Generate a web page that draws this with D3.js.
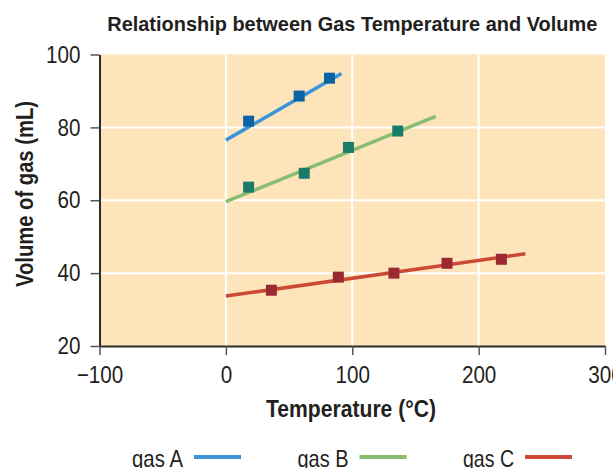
<!DOCTYPE html>
<html>
<head>
<meta charset="utf-8">
<script src="https://cdn.jsdelivr.net/npm/d3@7"></script>
<style>
  html, body { margin: 0; padding: 0; background: #ffffff; }
  svg { display: block; }
  text { font-family: "Liberation Sans", Arial, sans-serif; fill: #231f20; }
</style>
</head>
<body>
<svg id="chart" width="613" height="468"></svg>
<script>
// ---- data ----
const titleText = "Relationship between Gas Temperature and Volume";
const xLabel = "Temperature (°C)";
const yLabel = "Volume of gas (mL)";
const xTicks = [-100, 0, 100, 200, 300];
const yTicks = [20, 40, 60, 80, 100];
const xGrid = [0, 100, 200];
const yGrid = [40, 60, 80];
const seriesNames = ["gas A", "gas B", "gas C"];

const gasA_T = [18, 58, 82];
const gasA_V = [81.7, 88.6, 93.5];
const gasB_T = [18, 62, 97, 136];
const gasB_V = [63.6, 67.4, 74.5, 79.0];
const gasC_T = [36, 89, 133, 175, 218];
const gasC_V = [35.3, 38.9, 40.0, 42.7, 43.8];

// trend lines (start / end)
const gasA_fitT = [0, 91.5];
const gasA_fitV = [76.5, 94.8];
const gasB_fitT = [0, 166];
const gasB_fitV = [59.6, 83.0];
const gasC_fitT = [0, 237];
const gasC_fitV = [33.7, 45.3];

const lineColors = ["#3b94d9", "#88bd71", "#cc4a35"];
const markerColors = ["#0a64a4", "#1b7b69", "#9a2a30"];

const series = [
  { name: seriesNames[0], T: gasA_T, V: gasA_V, fitT: gasA_fitT, fitV: gasA_fitV },
  { name: seriesNames[1], T: gasB_T, V: gasB_V, fitT: gasB_fitT, fitV: gasB_fitV },
  { name: seriesNames[2], T: gasC_T, V: gasC_V, fitT: gasC_fitT, fitV: gasC_fitV }
];

// ---- layout ----
const svg = d3.select("#chart");
const pL = 99.5, pR = 605, pT = 54.5, pB = 346;
const x = d3.scaleLinear().domain([-100, 300]).range([pL, pR]);
const y = d3.scaleLinear().domain([20, 100]).range([pB, pT]);

// condense text horizontally (the original uses a condensed face)
function condense(sel, f) {
  sel.each(function () {
    const w = this.getComputedTextLength();
    d3.select(this).attr("textLength", w * f).attr("lengthAdjust", "spacingAndGlyphs");
  });
}

// background
svg.append("rect")
  .attr("x", pL).attr("y", pT)
  .attr("width", pR - pL).attr("height", pB - pT)
  .attr("fill", "#fde4ba");

// grid
svg.append("g").selectAll("line").data(xGrid).join("line")
  .attr("x1", d => x(d)).attr("x2", d => x(d))
  .attr("y1", pT).attr("y2", pB)
  .attr("stroke", "#ffffff").attr("stroke-width", 2);
svg.append("g").selectAll("line").data(yGrid).join("line")
  .attr("x1", pL).attr("x2", pR)
  .attr("y1", d => y(d)).attr("y2", d => y(d))
  .attr("stroke", "#ffffff").attr("stroke-width", 2);

// axes
const xAxis = d3.axisBottom(x).tickValues(xTicks).tickSize(9).tickPadding(11).tickSizeOuter(0)
  .tickFormat(d => d < 0 ? "\u2212" + Math.abs(d) : String(d));
const yAxis = d3.axisLeft(y).tickValues(yTicks).tickSize(9).tickPadding(10).tickSizeOuter(0);

const gx = svg.append("g").attr("transform", `translate(0,${pB})`).call(xAxis);
const gy = svg.append("g").attr("transform", `translate(${pL},0)`).call(yAxis);
[gx, gy].forEach(g => {
  g.select(".domain").attr("stroke", "#2b2b2b").attr("stroke-width", 2);
  g.selectAll(".tick line").attr("stroke", "#555555").attr("stroke-width", 1.5);
  const t = g.selectAll(".tick text")
    .attr("fill", "#231f20")
    .style("font-family", '"Liberation Sans", Arial, sans-serif')
    .style("font-size", "24px");
  condense(t, 0.86);
});

// trend lines
const line = d3.line().x(d => x(d[0])).y(d => y(d[1]));
svg.append("g").selectAll("path").data(series).join("path")
  .attr("d", s => line(s.fitT.map((t, i) => [t, s.fitV[i]])))
  .attr("fill", "none")
  .attr("stroke", (s, i) => lineColors[i])
  .attr("stroke-width", 3.5);

// markers
const ms = 11;
series.forEach((s, i) => {
  svg.append("g").selectAll("rect").data(s.T.map((t, j) => [t, s.V[j]])).join("rect")
    .attr("x", d => x(d[0]) - ms / 2)
    .attr("y", d => y(d[1]) - ms / 2)
    .attr("width", ms).attr("height", ms)
    .attr("fill", markerColors[i]);
});

// title
svg.append("text")
  .attr("x", (pL + pR) / 2).attr("y", 31)
  .attr("text-anchor", "middle")
  .attr("textLength", 490).attr("lengthAdjust", "spacingAndGlyphs")
  .style("font-size", "21px").style("font-weight", "bold")
  .text(titleText);

// x label
svg.append("text")
  .attr("x", 351).attr("y", 416.5)
  .attr("text-anchor", "middle")
  .attr("textLength", 170).attr("lengthAdjust", "spacingAndGlyphs")
  .style("font-size", "23px").style("font-weight", "bold")
  .text(xLabel);

// y label
svg.append("text")
  .attr("transform", "translate(33,194) rotate(-90)")
  .attr("text-anchor", "middle")
  .attr("textLength", 186).attr("lengthAdjust", "spacingAndGlyphs")
  .style("font-size", "23px").style("font-weight", "bold")
  .text(yLabel);

// legend
const legendX = d3.scaleLinear().domain([0, 2]).range([132, 463]);
const lg = svg.append("g").selectAll("g").data(series).join("g")
  .attr("transform", (s, i) => `translate(${legendX(i)},0)`);
lg.append("text")
  .attr("x", 0).attr("y", 467)
  .attr("textLength", 51).attr("lengthAdjust", "spacingAndGlyphs")
  .style("font-size", "24px")
  .text(s => s.name);
lg.append("line")
  .attr("x1", 62).attr("x2", 109)
  .attr("y1", 457).attr("y2", 457)
  .attr("stroke", (s, i) => lineColors[i])
  .attr("stroke-width", 4);
</script>
</body>
</html>
